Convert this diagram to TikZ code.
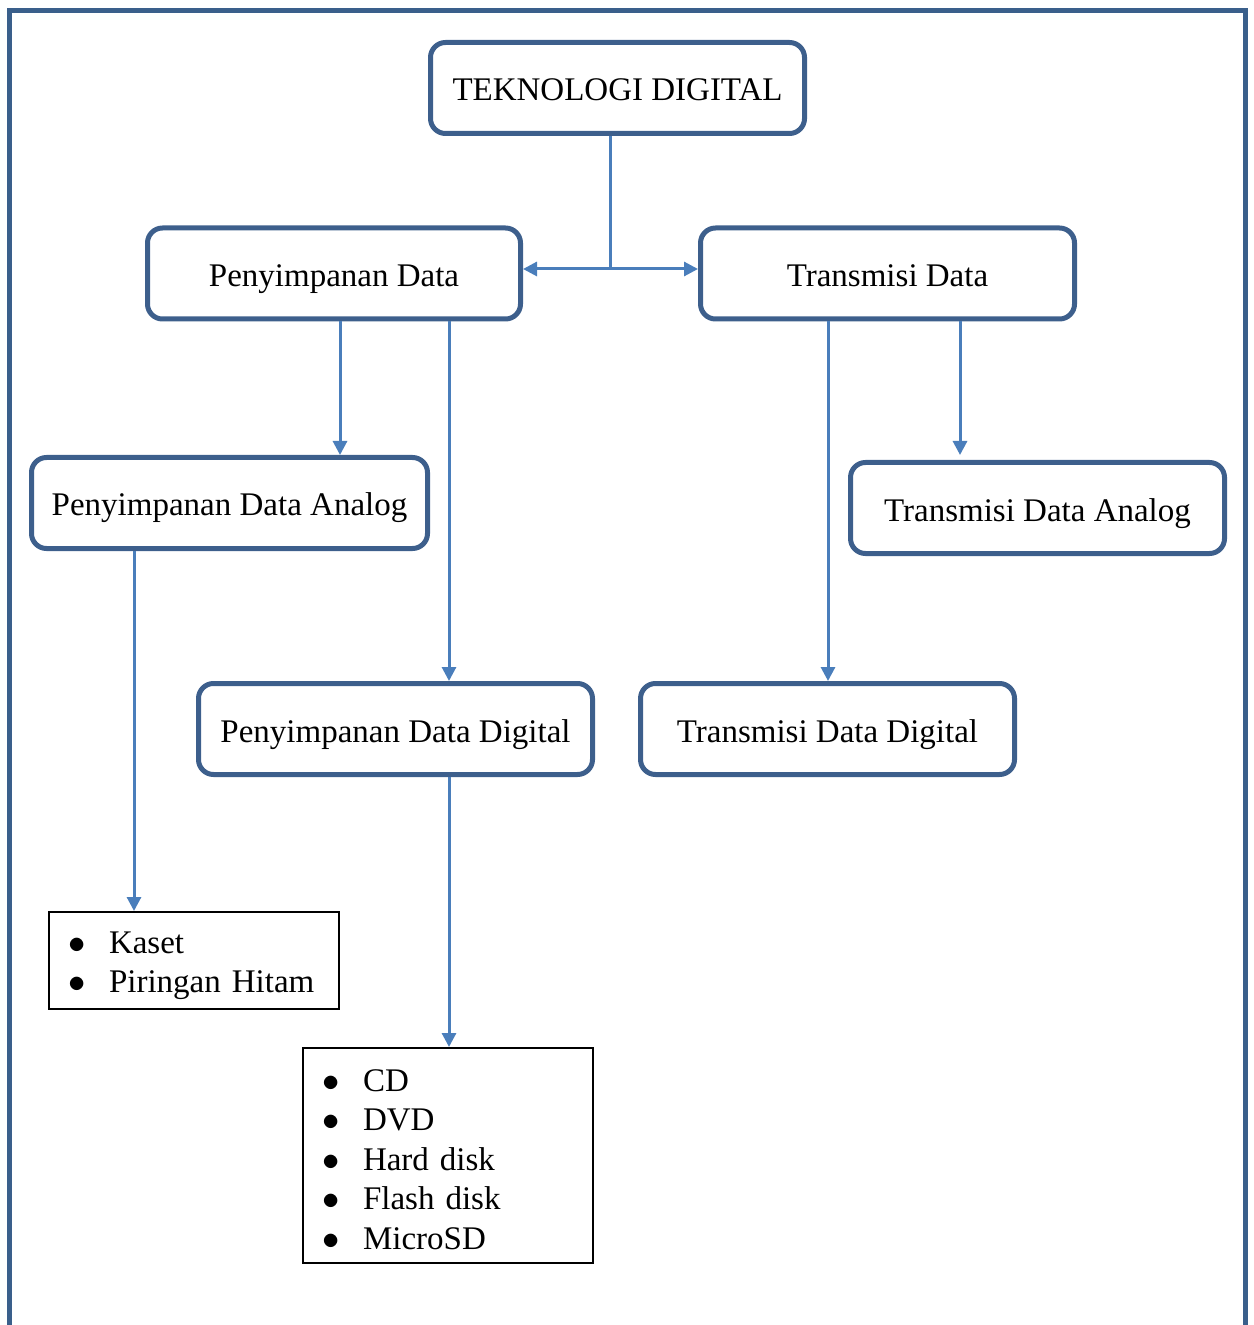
\documentclass[tikz,border=0pt]{standalone}
\usepackage{fontspec}
\setmainfont{Liberation Serif}
\usetikzlibrary{arrows.meta}
\definecolor{frameblue}{RGB}{58,95,139}
\definecolor{boxblue}{RGB}{61,95,140}
\definecolor{arrowblue}{RGB}{74,126,187}
\newcommand{\listitem}[1]{\makebox[20.5pt][l]{$\bullet$}#1}
\begin{document}
\begin{tikzpicture}[x=0.5pt,y=-0.5pt,
        box/.style={draw=boxblue, line width=2.5pt, rounded corners=7.5pt,
            minimum height=45.5pt, inner sep=0pt, text height=15pt, text depth=2pt},
        listbox/.style={draw=black, line width=1pt, minimum width=145pt,
            align=left, text width=126pt, inner xsep=9.5pt, inner ysep=0pt},
        conn/.style={draw=arrowblue, line width=1.5pt},
        arr/.style={conn, -{Triangle[length=7pt,width=7pt]}},
        font=\fontsize{16.5}{19.75}\selectfont]
        \useasboundingbox (0,0) rectangle (1253,1325);
        % outer frame, open at the bottom
        \draw[frameblue, line width=2.5pt] (9.5,1325) -- (9.5,10.5) -- (1245,10.5) -- (1245,1325);
        % boxes
        \node[box, minimum width=187pt] (tekno) at (617.5,88) {TEKNOLOGI DIGITAL};
        \node[box, minimum width=186.5pt] (pd) at (334,273.5) {Penyimpanan Data};
        \node[box, minimum width=187pt] (trd) at (887.5,273.5) {Transmisi Data};
        \node[box, minimum width=198pt] (pda) at (229.5,503) {Penyimpanan Data Analog};
        \node[box, minimum width=187pt] (tda) at (1037.5,508) {Transmisi Data Analog};
        \node[box, minimum width=197pt] (pdd) at (395.5,729) {Penyimpanan Data Digital};
        \node[box, minimum width=187pt] (tdd) at (827.5,729) {Transmisi Data Digital};
        \node[listbox, minimum height=48.5pt] (analoglist) at (194,960.5)
            {\rule{0pt}{16pt}\listitem{Kaset}\\
             \listitem{Piringan Hitam}};
        \node[listbox, minimum height=107.5pt] (digitallist) at (448,1155.5)
            {\rule{0pt}{15pt}\listitem{CD}\\
             \listitem{DVD}\\
             \listitem{Hard disk}\\
             \listitem{Flash disk}\\
             \listitem{MicroSD}};
        % connector columns
        \coordinate (split) at (610,269);
        \coordinate (colA) at (340,0);
        \coordinate (colB) at (449,0);
        \coordinate (colC) at (828,0);
        \coordinate (colD) at (960,0);
        \coordinate (colE) at (134,0);
        % connectors
        \draw[conn] (tekno.south -| split) -- (split);
        \draw[arr] (split) -- (split -| pd.east);
        \draw[arr] (split) -- (split -| trd.west);
        \draw[arr] (pd.south -| colA) -- (pda.north -| colA);
        \draw[arr] (pd.south -| colB) -- (pdd.north -| colB);
        \draw[arr] (trd.south -| colC) -- (tdd.north -| colC);
        \draw[arr] (trd.south -| colD) -- ([yshift=2.5pt]tda.north -| colD);
        \draw[arr] (pda.south -| colE) -- (analoglist.north -| colE);
        \draw[arr] (pdd.south -| colB) -- (digitallist.north -| colB);
    \end{tikzpicture}
\end{document}
